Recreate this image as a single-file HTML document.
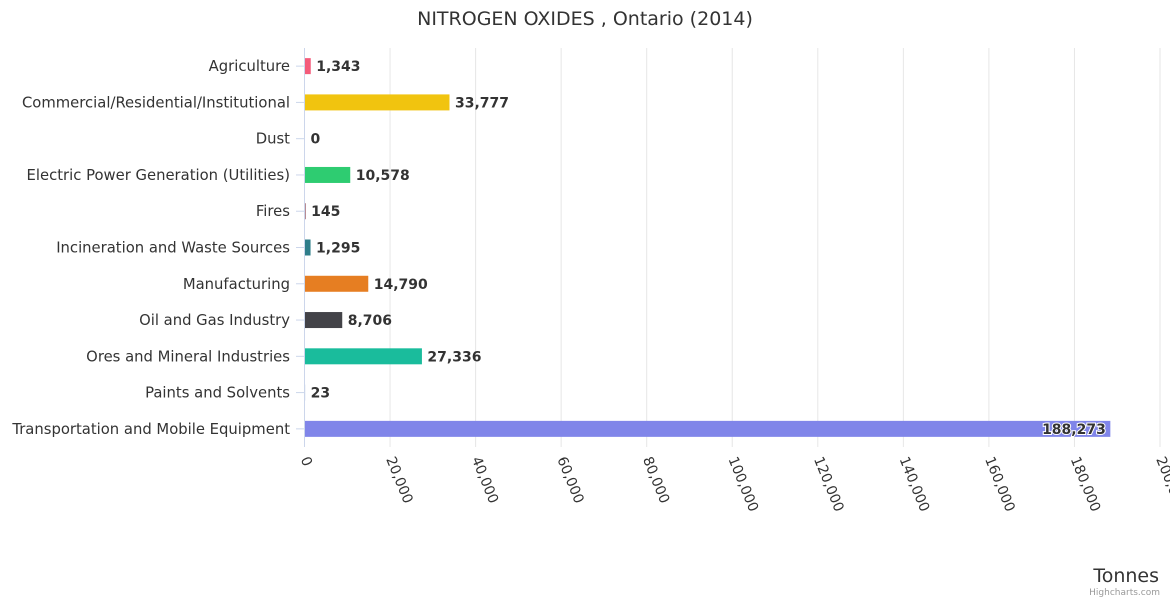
<!DOCTYPE html>
<html><head><meta charset="utf-8"><style>
body{margin:0;background:#fff;font-family:"Liberation Sans",sans-serif;}
svg text{font-family:"DejaVu Sans","Liberation Sans",sans-serif;}
</style></head><body>
<svg id="c" width="1170" height="600">
<text x="585" y="25" text-anchor="middle" font-size="19" fill="#333">NITROGEN OXIDES , Ontario (2014)</text>
<g id="grid"></g><g id="bars"></g><g id="ylab"></g><g id="xlab"></g>
<text x="1159" y="582" text-anchor="end" font-size="19" fill="#333">Tonnes</text>
<text x="1160" y="595" text-anchor="end" font-size="9" fill="#999">Highcharts.com</text>
</svg>
<script>
const categories=["Agriculture","Commercial/Residential/Institutional","Dust","Electric Power Generation (Utilities)","Fires","Incineration and Waste Sources","Manufacturing","Oil and Gas Industry","Ores and Mineral Industries","Paints and Solvents","Transportation and Mobile Equipment"];
const values=[1343,33777,0,10578,145,1295,14790,8706,27336,23,188273];
const colors=["#f45b7a","#f1c40f","#2b908f","#2ecc71","#8d4654","#2f7e8a","#e67e22","#434348","#1abc9c","#7798bf","#8085e9"];
const ticks=[0,20000,40000,60000,80000,100000,120000,140000,160000,180000,200000];
const NS="http://www.w3.org/2000/svg";
const x0=304.5,x1=1160,yTop=48,yBot=447,maxV=200000;
const xs=v=>x0+(v/maxV)*(x1-x0);
const step=(yBot-yTop)/categories.length;
const yc=i=>yTop+step*(i+0.5);
function mk(t,a,p){const e=document.createElementNS(NS,t);for(const k in a)e.setAttribute(k,a[k]);p.appendChild(e);return e;}
const g=document.getElementById('grid'),b=document.getElementById('bars'),yl=document.getElementById('ylab'),xl=document.getElementById('xlab');
ticks.forEach((t,i)=>{
 const x=xs(t);
 const l=mk('line',{x1:x,x2:x,y1:yTop,y2:yBot,stroke:i==0?'#ccd6eb':'#e6e6e6','stroke-width':1},g);
 
 
 const tx=mk('text',{x:x-4,y:459,'font-size':14,fill:'#333',transform:`rotate(68 ${x-4} 459)`},xl);
 tx.textContent=t.toLocaleString('en-US');
 
 
});
categories.forEach((c,i)=>{
 const y=yc(i);
 mk('line',{x1:296,x2:304,y1:y,y2:y,stroke:'#ccd6eb'},g);
 const lt=mk('text',{x:290,y:y+5,'text-anchor':'end','font-size':14.8,fill:'#333'},yl);
 lt.textContent=c;
 
 
 const w=xs(values[i])-x0;
 const r=mk('rect',{x:x0+0.5,y:y-8,width:Math.max(w,0),height:16,fill:colors[i]},b);
 
 
 const inside=w>200;
 const vt=mk('text',{x:inside?x0+w-4:x0+w+6,y:y+5,'text-anchor':inside?'end':'start','font-size':14,'font-weight':'bold',fill:'#333',stroke:'#fff','stroke-width':inside?2:0,'paint-order':'stroke'},b);
 vt.textContent=values[i].toLocaleString('en-US');
 
 
});
</script>
</body></html>
